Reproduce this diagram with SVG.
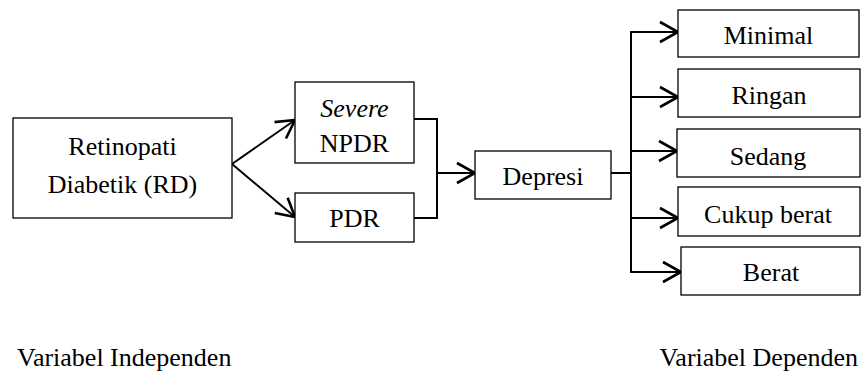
<svg xmlns="http://www.w3.org/2000/svg" width="864" height="376" viewBox="0 0 864 376">
  <style>
    .box { fill: #ffffff; stroke: #000000; stroke-width: 1.3; }
    text { font-family: 'Liberation Serif', 'Times New Roman', 'DejaVu Serif', serif; font-size: 26px; fill: #000000; }
    .lbl { text-anchor: middle; }
    .wire { fill: none; stroke: #000000; stroke-width: 2; stroke-linejoin: miter; }
    .arrow { fill: none; stroke: #000000; stroke-width: 2; marker-end: url(#head); }
  </style>
  <defs>
    <marker id="head" markerUnits="userSpaceOnUse" markerWidth="26" markerHeight="26" refX="21" refY="13" orient="auto" overflow="visible">
      <path d="M3,3 L21,13 L3,23" fill="none" stroke="#000000" stroke-width="2.6"/>
    </marker>
  </defs>

  <rect width="864" height="376" fill="#ffffff"/>

  <!-- connectors -->
  <g id="connectors">
    <line class="arrow" x1="232" y1="164" x2="295" y2="120"/>
    <line class="arrow" x1="232" y1="164" x2="295" y2="217"/>
    <polyline class="wire" points="414,119 437,119 437,218 414,218"/>
    <line class="arrow" x1="437" y1="173" x2="475" y2="173"/>
    <line class="wire" x1="611" y1="173" x2="631" y2="173"/>
    <line class="wire" x1="631" y1="32" x2="631" y2="273"/>
    <line class="arrow" x1="630" y1="32" x2="678" y2="32"/>
    <line class="arrow" x1="630" y1="97" x2="678" y2="97"/>
    <line class="arrow" x1="630" y1="151" x2="677" y2="151"/>
    <line class="arrow" x1="630" y1="218" x2="678" y2="218"/>
    <line class="arrow" x1="630" y1="272" x2="681" y2="272"/>
  </g>

  <!-- nodes -->
  <g id="rd">
    <rect class="box" x="13" y="118" width="219" height="100"/>
    <text class="lbl" x="122.5" y="155">Retinopati</text>
    <text class="lbl" x="122.5" y="193">Diabetik (RD)</text>
  </g>
  <g id="npdr">
    <rect class="box" x="295" y="82" width="119" height="81"/>
    <text class="lbl" x="354.5" y="117" font-style="italic">Severe</text>
    <text class="lbl" x="354.5" y="152">NPDR</text>
  </g>
  <g id="pdr">
    <rect class="box" x="295" y="193" width="119" height="49"/>
    <text class="lbl" x="354.5" y="227">PDR</text>
  </g>
  <g id="depresi">
    <rect class="box" x="475" y="151" width="136" height="48"/>
    <text class="lbl" x="543" y="185">Depresi</text>
  </g>
  <g id="minimal">
    <rect class="box" x="678" y="10" width="181" height="47"/>
    <text class="lbl" x="768.5" y="44">Minimal</text>
  </g>
  <g id="ringan">
    <rect class="box" x="678" y="69" width="182" height="48"/>
    <text class="lbl" x="769" y="104">Ringan</text>
  </g>
  <g id="sedang">
    <rect class="box" x="677" y="129" width="183" height="48"/>
    <text class="lbl" x="768" y="165">Sedang</text>
  </g>
  <g id="cukup-berat">
    <rect class="box" x="678" y="187" width="182" height="49"/>
    <text class="lbl" x="768" y="223">Cukup berat</text>
  </g>
  <g id="berat">
    <rect class="box" x="681" y="247" width="179" height="48"/>
    <text class="lbl" x="771" y="281">Berat</text>
  </g>

  <!-- axis captions -->
  <text x="17" y="366">Variabel Independen</text>
  <text x="858" y="366" text-anchor="end">Variabel Dependen</text>
</svg>
